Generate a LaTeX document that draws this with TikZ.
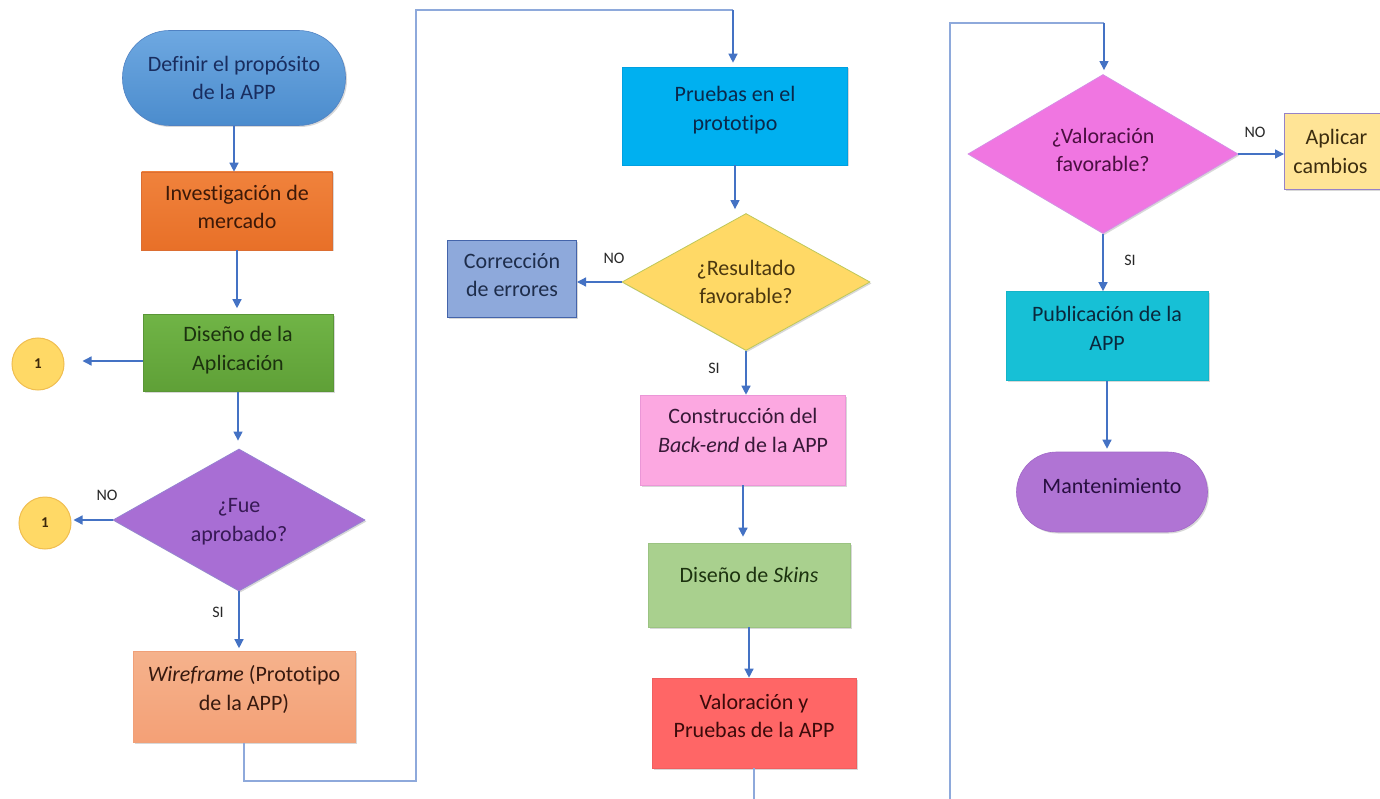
\documentclass[tikz,border=0pt]{standalone}
\usepackage{fontspec}
\setmainfont{Carlito}[Ligatures=NoCommon]
\usetikzlibrary{shapes.geometric,arrows.meta,shadows,calc}
\definecolor{conn}{HTML}{4472C4}
\definecolor{loopc}{HTML}{8EA9DB}
\tikzset{
  base/.style={inner sep=0pt, align=center, font=\fontsize{22}{28.5}\selectfont,
    drop shadow={shadow xshift=1.5pt, shadow yshift=-1.5pt, opacity=0.25, fill=black!60}},
  procbox/.style={base, rectangle, line width=0.6pt},
  termbox/.style={base, rectangle, line width=0.6pt},
  decbox/.style={base, diamond, line width=0.8pt},
  lift/.style={text depth=#1},
  conncirc/.style={circle, minimum size=52pt, inner sep=0pt, fill={rgb,255:red,255;green,217;blue,102},
    draw={rgb,255:red,240;green,190;blue,80}, line width=1pt, font=\fontsize{15}{18}\selectfont\bfseries, text={rgb,255:red,60;green,40;blue,10}},
  arr/.style={draw=conn, line width=1.3pt, -{Triangle[width=9pt,length=9pt]}},
  loopline/.style={draw=loopc, line width=1.5pt},
  lbl/.style={font=\fontsize{16}{18}\selectfont, text={rgb,255:red,40;green,40;blue,40}, inner sep=0pt}
}
\begin{document}
\begin{tikzpicture}[x=1pt,y=-1pt]
\useasboundingbox (0,0) rectangle (1380,799);
\fill[white] (0,0) rectangle (1380,799);

% ---------- column 1 ----------
\node[termbox, minimum width=223pt, minimum height=95pt, rounded corners=47pt, lift=0pt,
  top color={rgb,255:red,110;green,168;blue,225}, bottom color={rgb,255:red,75;green,140;blue,205},
  draw={rgb,255:red,80;green,130;blue,195}, text={rgb,255:red,25;green,45;blue,95}]
  (def) at (234,78) {Definir el propósito\\de la APP};
\node[procbox, minimum width=191pt, minimum height=78pt, lift=8pt,
  top color={rgb,255:red,240;green,130;blue,60}, bottom color={rgb,255:red,232;green,112;blue,40},
  draw={rgb,255:red,220;green,110;blue,50}, text={rgb,255:red,60;green,25;blue,8}]
  (inv) at (237,211) {Investigación de\\mercado};
\node[procbox, minimum width=190pt, minimum height=77pt, lift=9pt,
  top color={rgb,255:red,112;green,180;blue,70}, bottom color={rgb,255:red,95;green,160;blue,55},
  draw={rgb,255:red,90;green,150;blue,55}, text={rgb,255:red,28;green,50;blue,15}]
  (dis) at (238,353) {Diseño de la\\Aplicación};
\node[conncirc] (c1) at (38,364) {1};
\node[decbox, minimum width=252pt, minimum height=142pt, aspect=1.77, lift=0pt,
  fill={rgb,255:red,168;green,110;blue,212}, draw={rgb,255:red,150;green,130;blue,210},
  text={rgb,255:red,55;green,25;blue,85}]
  (fue) at (239,520) {¿Fue\\aprobado?};
\node[conncirc] (c2) at (45,523) {1};
\node[procbox, minimum width=222pt, minimum height=91pt, lift=18pt,
  top color={rgb,255:red,245;green,178;blue,140}, bottom color={rgb,255:red,244;green,160;blue,118},
  draw={rgb,255:red,240;green,160;blue,120}, text={rgb,255:red,55;green,25;blue,15}]
  (wire) at (244,697) {\textit{Wireframe} (Prototipo\\de la APP)};

% ---------- column 2 ----------
\node[procbox, minimum width=225pt, minimum height=98pt, lift=15pt,
  fill={rgb,255:red,0;green,176;blue,240}, draw={rgb,255:red,0;green,160;blue,225},
  text={rgb,255:red,10;green,40;blue,75}]
  (pru) at (735,116) {Pruebas en el\\prototipo};
\node[decbox, minimum width=248pt, minimum height=137pt, aspect=1.8,
  fill={rgb,255:red,255;green,217;blue,102}, draw={rgb,255:red,190;green,200;blue,90},
  text={rgb,255:red,75;green,55;blue,15}]
  (res) at (746,282) {¿Resultado\\favorable?};
\node[procbox, minimum width=129pt, minimum height=77pt, lift=8pt,
  fill={rgb,255:red,142;green,169;blue,219}, draw={rgb,255:red,68;green,100;blue,170}, line width=1pt,
  text={rgb,255:red,30;green,45;blue,75}]
  (cor) at (512,279) {Corrección\\de errores};
\node[procbox, minimum width=205pt, minimum height=90pt, lift=19pt,
  fill={rgb,255:red,252;green,168;blue,225}, draw={rgb,255:red,235;green,150;blue,215},
  text={rgb,255:red,55;green,25;blue,55}]
  (con) at (743,440) {Construcción del\\\textit{Back-end} de la APP};
\node[procbox, minimum width=202pt, minimum height=84pt, lift=20pt,
  fill={rgb,255:red,169;green,208;blue,142}, draw={rgb,255:red,155;green,195;blue,130},
  text={rgb,255:red,28;green,50;blue,15}]
  (ski) at (749,585) {Diseño de \textit{Skins}};
\node[procbox, minimum width=204pt, minimum height=90pt, lift=14pt,
  fill={rgb,255:red,255;green,102;blue,102}, draw={rgb,255:red,240;green,95;blue,95},
  text={rgb,255:red,60;green,10;blue,10}]
  (val) at (754,723) {Valoración y\\Pruebas de la APP};

% ---------- column 3 ----------
\node[decbox, minimum width=270pt, minimum height=159pt, aspect=1.7, lift=8pt,
  fill={rgb,255:red,240;green,118;blue,225}, draw={rgb,255:red,215;green,140;blue,230},
  text={rgb,255:red,75;green,15;blue,65}]
  (vfa) at (1103,154) {¿Valoración\\favorable?};
\node[procbox, minimum width=104pt, minimum height=76pt, anchor=west, lift=1pt,
  fill={rgb,255:red,255;green,228;blue,150}, draw={rgb,255:red,150;green,130;blue,200}, line width=1pt,
  text={rgb,255:red,60;green,45;blue,15}]
  (apl) at (1284,152) {Aplicar\\cambios\hspace*{12pt}};
\node[procbox, minimum width=202pt, minimum height=89pt, lift=15pt,
  fill={rgb,255:red,23;green,192;blue,214}, draw={rgb,255:red,20;green,180;blue,200},
  text={rgb,255:red,10;green,40;blue,60}]
  (pub) at (1107,336) {Publicación de la\\APP};
\node[termbox, minimum width=191pt, minimum height=80pt, rounded corners=40pt, lift=13pt,
  fill={rgb,255:red,176;green,116;blue,212}, draw={rgb,255:red,160;green,105;blue,200},
  text={rgb,255:red,40;green,15;blue,65}]
  (man) at (1112,492) {Mantenimiento};

% ---------- connectors ----------
\draw[arr] (def.south) -- (def.south |- inv.north);
\draw[arr] (inv.south) -- ($(inv.south |- dis.north)+(0,-6)$);
\draw[arr] ($(dis.west)+(0,8)$) -- ($(dis.west -| c1.east)+(18,8)$);
\draw[arr] (dis.south) -- ($(dis.south |- fue.north)+(0,-8)$);
\draw[arr] (fue.west) -- ($(fue.west -| c2.east)+(2,0)$);
\draw[arr] (fue.south) -- ($(fue.south |- wire.north)+(0,-3)$);
\node[lbl] (no1) at (107,495) {NO};
\node[lbl] (si1) at (218,612) {SI};

\coordinate (l1) at (416,781);
\coordinate (l2) at (416,10);
\coordinate (l2e) at (733,10);
\draw[loopline] (wire.south) |- (l1) -- (l2) -- (l2e);
\draw[arr] (l2e) -- ($(l2e |- pru.north)+(0,-4)$);

\draw[arr] (pru.south) -- ($(pru.south |- res.north)+(0,-4)$);
\draw[arr] (res.west) -- (res.west -| cor.east);
\draw[arr] (res.south) -- (res.south |- con.north);
\draw[arr] (con.south) -- ($(con.south |- ski.north)+(0,-6)$);
\draw[arr] (ski.south) -- (ski.south |- val.north);
\node[lbl] (no2) at (614,258) {NO};
\node[lbl] (si2) at (714,368) {SI};

\coordinate (l3) at (950,810);
\coordinate (l4) at (950,23);
\coordinate (l5) at (750,810);
\coordinate (l6) at (1104,23);
\draw[loopline] (val.south) -- (val.south |- l5);
\draw[loopline] (l3) -- (l4) -- (l6);
\draw[arr] (l6) -- ($(l6 |- vfa.north)+(0,-4)$);

\draw[arr] (vfa.east) -- (vfa.east -| apl.west);
\draw[arr] (vfa.south) -- (vfa.south |- pub.north);
\draw[arr] (pub.south) -- ($(pub.south |- man.north)+(0,-3)$);
\node[lbl] (no3) at (1255,132) {NO};
\node[lbl] (si3) at (1130,260) {SI};
\end{tikzpicture}
\end{document}
